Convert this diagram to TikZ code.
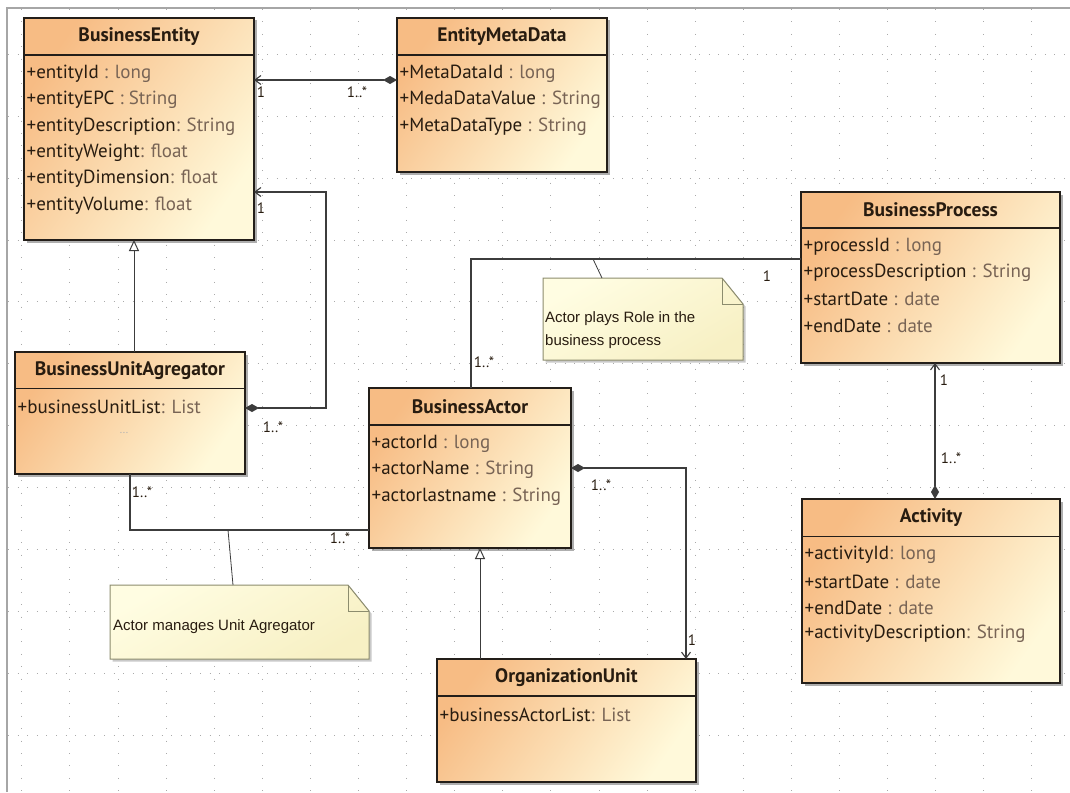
\documentclass[tikz,border=0pt]{standalone}
\usepackage{fontspec}
\setmainfont{PT Sans}
\newfontfamily\notefont{Liberation Sans}
\usetikzlibrary{arrows.meta,shadows,calc}
\definecolor{bodyA}{RGB}{247,188,132}
\definecolor{bodyB}{RGB}{255,249,218}
\definecolor{noteA}{RGB}{255,253,226}
\definecolor{noteB}{RGB}{247,240,196}
\definecolor{notec}{RGB}{140,140,110}
\definecolor{boxc}{RGB}{35,30,25}
\definecolor{txtdark}{RGB}{40,28,16}
\definecolor{txtgray}{RGB}{120,100,85}
\definecolor{gridc}{RGB}{170,170,170}
\definecolor{linec}{RGB}{60,60,60}
\newcommand\umlclass[7]{%
  \node[classbox, minimum width=#4pt, minimum height=#5pt, anchor=north west] (#1) at (#2,#3) {};
  \draw[boxedge] ([yshift=-#6pt]#1.north west) -- ([yshift=-#6pt]#1.north east);
  \node[titletext] (#1-title) at ([yshift=-#6pt/2]#1.north) {#7};
}
\newcommand\classattrs[3]{%
  \foreach \n/\t [count=\i from 0] in {#3} {
    \node[attrtext] (#1-a\i) at ([xshift=2.5pt, yshift={-(#2+18.5+26.4*\i)}]#1.north west)
      {\textcolor{txtdark}{\n}\textcolor{txtgray}{\t}};
  }}
\newcommand\umlnote[5]{%
  \node[anchor=north west, minimum width=#4pt, minimum height=#5pt, inner sep=0, outer sep=0] (#1) at (#2,#3) {};
  \shadedraw[notebody] (#1.north west) -- ([xshift=-21pt]#1.north east) -- ([yshift=-26pt]#1.north east)
    -- (#1.south east) -- (#1.south west) -- cycle;
  \draw[notec, line width=1pt] ([xshift=-21pt]#1.north east) |- ([yshift=-26pt]#1.north east);
}
\begin{document}
\begin{tikzpicture}[x=1pt,y=-1pt,
  classbox/.style={draw=boxc, line width=1.2pt, top color=bodyA, bottom color=bodyB, shading angle=55,
    drop shadow={shadow xshift=2.5pt, shadow yshift=-2.5pt, opacity=0.45, fill=black!70},
    inner sep=0, outer sep=0},
  boxedge/.style={draw=boxc, line width=1.2pt},
  titletext/.style={font=\bfseries\fontsize{19.5}{22}\selectfont, text=txtdark, inner sep=0},
  attrtext/.style={anchor=west, inner sep=0, font=\fontsize{19}{22}\selectfont},
  notebody/.style={top color=noteA, bottom color=noteB, shading angle=30, draw=notec, line width=1pt,
    drop shadow={shadow xshift=2.5pt, shadow yshift=-2.5pt, opacity=0.35, fill=black!60}},
  notetext/.style={font=\notefont\fontsize{15}{23}\selectfont, text=txtdark, align=left, inner sep=0, anchor=north west},
  mult/.style={font=\fontsize{15}{17}\selectfont, text=txtdark, inner sep=0},
  assoc/.style={draw=linec, line width=1.1pt},
  gen/.style={draw=linec, line width=1pt},
  noteline/.style={draw=linec, line width=0.8pt},
  gridv/.style={draw=gridc, line width=0.9pt, dash pattern=on 1pt off 11.4pt},
  gridh/.style={draw=gridc, line width=0.9pt, dash pattern=on 1pt off 8.6pt}
]
\useasboundingbox (0,0) rectangle (1070,792);
\fill[white] (0,0) rectangle (1070,792);
% grid
\foreach \i in {0,...,21} { \draw[gridv] ({21.8+48.1*\i},9) -- ({21.8+48.1*\i},792); }
\foreach \k in {0,...,11} { \draw[gridh] (8,{54.3+61.9*\k}) -- (1070,{54.3+61.9*\k}); }
% frame
\draw[gray!70, line width=1.2pt] (7,792) -- (7,8) -- (1070,8);

% classes
\umlclass{be}{24}{18}{230}{222}{37}{BusinessEntity}
\classattrs{be}{37}{{+entityId}/{~: long},{+entityEPC}/{~: String},{+entityDescription}/{: String},{+entityWeight}/{: float},{+entityDimension}/{: float},{+entityVolume}/{: float}}

\umlclass{em}{397}{18}{210}{154}{37}{EntityMetaData}
\classattrs{em}{37}{{+MetaDataId}/{~: long},{+MedaDataValue}/{~: String},{+MetaDataType}/{~: String}}

\umlclass{bua}{15}{352}{230}{122}{36.5}{BusinessUnitAgregator}
\classattrs{bua}{36.5}{{+businessUnitList}/{: List}}
\node[font=\fontsize{11}{12}\selectfont, text=gray!60, inner sep=0] (bua-dots) at (124,433) {...};

\umlclass{ba}{369}{388}{202}{160}{37}{BusinessActor}
\classattrs{ba}{37}{{+actorId}/{~: long},{+actorName}/{~: String},{+actorlastname}/{~: String}}

\umlclass{bp}{801}{192}{259}{171}{36}{BusinessProcess}
\classattrs{bp}{36}{{+processId}/{~: long},{+processDescription}/{~: String},{+startDate}/{~: date},{+endDate}/{~: date}}

\umlclass{act}{802}{499}{258}{184}{37.5}{Activity}
\classattrs{act}{37.5}{{+activityId}/{: long},{+startDate}/{~: date},{+endDate}/{~: date},{+activityDescription}/{: String}}

\umlclass{ou}{437}{659}{259}{123}{37}{OrganizationUnit}
\classattrs{ou}{37}{{+businessActorList}/{: List}}

% notes
\umlnote{n1}{543}{278}{200}{82}
\node[notetext] (n1-text) at ([xshift=2pt,yshift=-33pt]n1.north west) {Actor plays Role in the\\business process};
\umlnote{n2}{110}{585}{259}{74}
\node[notetext] (n2-text) at ([xshift=3pt,yshift=-34pt]n2.north west) {Actor manages Unit Agregator};

% connectors
\draw[assoc, {Straight Barb[length=6pt,width=9pt]}-{Diamond[length=14pt,width=8pt]}]
  (be.east |- 0,80) -- (em.west |- 0,80);
\draw[assoc, {Straight Barb[length=6pt,width=9pt]}-{Diamond[length=14pt,width=8pt]}]
  (be.east |- 0,192) -- (326,192) -- (326,408) -- (bua.east |- 0,408);
\draw[gen, -{Triangle[length=11pt,width=10pt,fill=white]}] (bua.north -| 134,0) -- (be.south -| 134,0);
\draw[assoc] (bua.south -| 130,0) -- (130,530) -- (ba.west |- 0,530);
\draw[assoc] (ba.north -| 471,0) -- (471,259) -- (bp.west |- 0,259);
\draw[assoc, {Straight Barb[length=6pt,width=9pt]}-{Diamond[length=14pt,width=8pt]}]
  (bp.south -| 935,0) -- (act.north -| 935,0);
\draw[assoc, {Diamond[length=14pt,width=8pt]}-{Straight Barb[length=6pt,width=9pt]}]
  (ba.east |- 0,468) -- (686,468) -- (ou.north -| 686,0);
\draw[gen, -{Triangle[length=11pt,width=10pt,fill=white]}] (ou.north -| 480,0) -- (ba.south -| 480,0);
\coordinate (k1) at (593,259);
\coordinate (k2) at (228,530);
\draw[noteline] (k1) -- (n1.north -| 602,0);
\draw[noteline] (k2) -- (n2.north -| 233,0);

% multiplicities
\node[mult] (m1) at (261,92) {1};
\node[mult] (m2) at (357,92) {1..*};
\node[mult] (m3) at (261,208) {1};
\node[mult] (m4) at (273,427) {1..*};
\node[mult] (m5) at (142,492) {1..*};
\node[mult] (m6) at (340,538) {1..*};
\node[mult] (m7) at (484,362) {1..*};
\node[mult] (m8) at (767,276) {1};
\node[mult] (m9) at (944,380) {1};
\node[mult] (m10) at (951,458) {1..*};
\node[mult] (m11) at (601,485) {1..*};
\node[mult] (m12) at (692,640) {1};
\end{tikzpicture}
\end{document}
